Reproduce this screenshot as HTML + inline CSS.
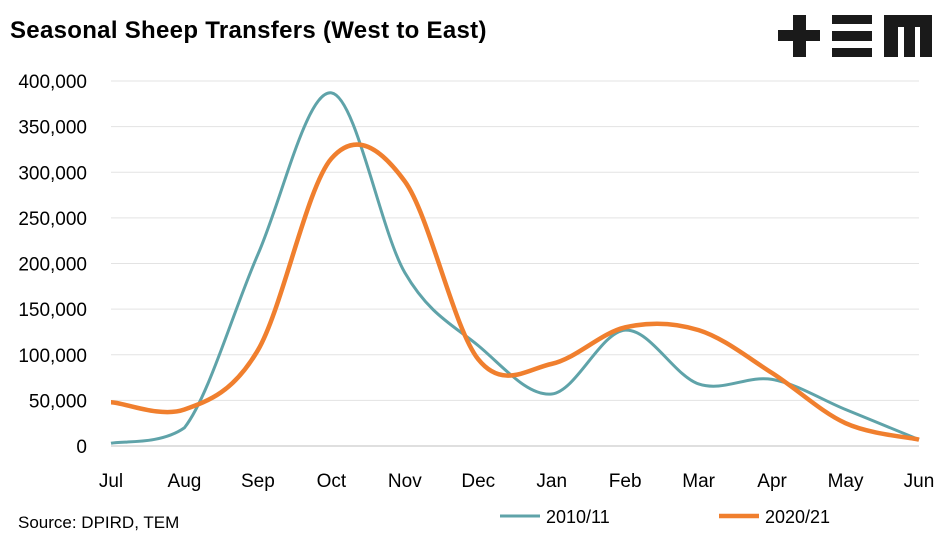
<!DOCTYPE html>
<html><head><meta charset="utf-8"><style>
body{margin:0;background:#fff;}
svg{display:block;font-family:"Liberation Sans",sans-serif;}
</style></head><body>
<svg width="947" height="539" viewBox="0 0 947 539">
<text x="10" y="38" font-size="24" font-weight="bold" letter-spacing="0.3" fill="#000">Seasonal Sheep Transfers (West to East)</text>
<g fill="#1a1a1a">
<rect x="778" y="30" width="42" height="11"/><rect x="793" y="15" width="13" height="42"/>
<rect x="832" y="15" width="40" height="9"/><rect x="832" y="31" width="40" height="10"/><rect x="832" y="48" width="40" height="9"/>
<path d="M884 15H932V57H920V27H915V57H904V27H898V57H884Z"/>
</g>
<g id="grid"></g><g id="yt"></g><g id="xt"></g><g id="series"></g>
<text x="18" y="528" font-size="17" fill="#000">Source: DPIRD, TEM</text>
<g>
<line x1="500" y1="516" x2="540" y2="516" stroke="#5fa3a9" stroke-width="3"/>
<text x="546" y="523" font-size="18">2010/11</text>
<line x1="719" y1="516" x2="759" y2="516" stroke="#f07f2e" stroke-width="4.5"/>
<text x="765" y="523" font-size="18">2020/21</text>
</g>
</svg>
<script>
const months=["Jul","Aug","Sep","Oct","Nov","Dec","Jan","Feb","Mar","Apr","May","Jun"];
const s2010=[3000,20000,210000,387000,190000,110000,57000,127000,68000,73000,40000,7000];
const s2020=[48000,40000,105000,315000,290000,95000,90000,130000,127000,80000,25000,7000];
const yTicks=[0,50000,100000,150000,200000,250000,300000,350000,400000];
const NS="http://www.w3.org/2000/svg";
const x0=111,x1=919,y0=446,y1=81,ymax=400000;
const X=i=>x0+(x1-x0)*i/(months.length-1);
const Y=v=>y0-(y0-y1)*v/ymax;
function mk(t,a,p){const e=document.createElementNS(NS,t);for(const k in a)e.setAttribute(k,a[k]);p.appendChild(e);return e;}
const grid=document.getElementById('grid'),yt=document.getElementById('yt'),xt=document.getElementById('xt'),ser=document.getElementById('series');
yTicks.forEach(v=>{
 const l=mk('line',{x1:x0,x2:x1,y1:Y(v),y2:Y(v),stroke:v?'#e3e3e3':'#bfbfbf','stroke-width':1},grid);
 
 
 const t=mk('text',{x:87,y:Y(v)+7,'font-size':19,'text-anchor':'end'},yt);
 t.textContent=v.toLocaleString('en-US');
 
 
});
months.forEach((m,i)=>{
 const t=mk('text',{x:X(i),y:487,'font-size':19,'text-anchor':'middle'},xt);
 t.textContent=m;
 
 
});
function path(vals){
 const p=vals.map((v,i)=>[X(i),Y(v)]);
 let d='M'+p[0][0]+' '+p[0][1];
 for(let i=0;i<p.length-1;i++){
  const a=p[Math.max(0,i-1)],b=p[i],c=p[i+1],e=p[Math.min(p.length-1,i+2)],k=1/6;
  let c1y=b[1]+(c[1]-a[1])*k,c2y=c[1]-(e[1]-b[1])*k;
  c1y=Math.min(c1y,Y(0)-1);c2y=Math.min(c2y,Y(0)-1);
  if(i===0){c1y=Math.min(c1y,b[1]);}
  d+=`C${b[0]+(c[0]-a[0])*k} ${c1y} ${c[0]-(e[0]-b[0])*k} ${c2y} ${c[0]} ${c[1]}`;
 }
 return d;
}
const p1=mk('path',{d:path(s2010),fill:'none',stroke:'#5fa3a9','stroke-width':3},ser);


const p2=mk('path',{d:path(s2020),fill:'none',stroke:'#f07f2e','stroke-width':4.5},ser);


</script>
</body></html>
